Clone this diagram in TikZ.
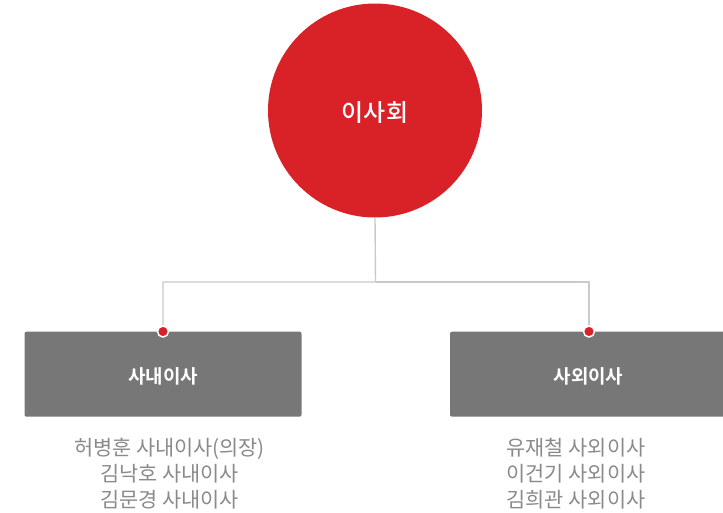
\documentclass[tikz,border=0pt]{standalone}
\usepackage{fontspec}
\newfontfamily\kr{Noto Sans CJK KR}
\newfontfamily\krm{Noto Sans CJK KR Medium}
\newfontfamily\krb{Noto Sans CJK KR Bold}
\definecolor{boardred}{HTML}{D92128}
\definecolor{boxgray}{HTML}{777777}
\definecolor{linegray}{HTML}{C8CCC8}
\definecolor{txtgray}{HTML}{8A8A8A}
\tikzset{
  board/.style={circle,fill=boardred,draw=none,minimum size=214pt,inner sep=0pt},
  groupbox/.style={rectangle,rounded corners=2pt,fill=boxgray,draw=none,minimum width=277pt,minimum height=85pt,inner sep=0pt},
  boardlabel/.style={text=white,font=\krm\fontsize{24}{28}\selectfont,inner sep=0pt},
  boxlabel/.style={text=white,font=\krb\fontsize{19}{22}\selectfont,inner sep=0pt},
  conn/.style={draw=linegray,line width=1.4pt},
  joint/.style={circle,fill=boardred,draw=white,line width=1.5pt,minimum size=11pt,inner sep=0pt},
  members/.style={align=center,text=txtgray,font=\kr\fontsize{20.8}{26}\selectfont,inner sep=0pt}
}
\begin{document}
\begin{tikzpicture}[x=1pt,y=-1pt]
\clip (0,0) rectangle (723,512);
\useasboundingbox (0,0) rectangle (723,512);
\fill[white] (0,0) rectangle (723,512);
\coordinate (split) at (375.5,282);
\coordinate (lt) at (163,282);
\coordinate (rt) at (589,282);
\node[groupbox] (inside) at (163,374.2) {};
\node[groupbox] (outside) at (588.5,374.2) {};
\node[boxlabel] (insidelbl) at (163,376.5) {사내이사};
\node[boxlabel] (outsidelbl) at (588.5,376.5) {사외이사};
\node[board] (board) at (375,110.5) {};
\node[boardlabel] (boardlbl) at (375,113) {이사회};
\draw[conn] (board.south) -- (split) -- (lt) -- (inside.north);
\draw[conn] (split) -- (rt) -- (outside.north -| rt);
\node[joint] (jl) at (inside.north) {};
\node[joint] (jr) at (outside.north -| rt) {};
\node[members] (insidemem) at (169.5,474) {허병훈 사내이사(의장)\\김낙호 사내이사\\김문경 사내이사};
\node[members] (outsidemem) at (576,474) {유재철 사외이사\\이건기 사외이사\\김희관 사외이사};
\end{tikzpicture}
\end{document}
